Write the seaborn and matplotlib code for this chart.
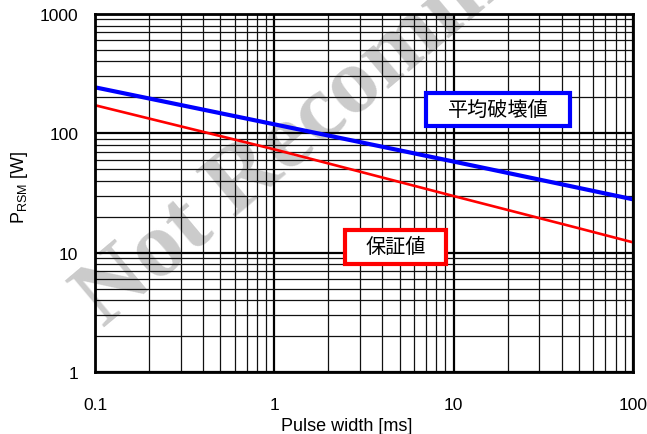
import numpy as np
import pandas as pd
import matplotlib
matplotlib.use("Agg")
import matplotlib.pyplot as plt
from matplotlib.patches import Rectangle
from matplotlib.ticker import LogLocator, FixedLocator, FixedFormatter, NullFormatter
import seaborn as sns

# Surge power rating vs. pulse width
pulse_ms = [0.1, 1, 10, 100]
p_avg_break = [243, 119, 58, 28]          # 平均破壊値
pulse_ms_guar = [0.1, 1, 10, 50, 100]
p_guaranteed = [172, 73.4, 29.8, 16.0, 12.2]  # 保証値

x_ticks = [0.1, 1, 10, 100]
x_tick_labels = ["0.1", "1", "10", "100"]
y_ticks = [1, 10, 100, 1000]
y_tick_labels = ["1", "10", "100", "1000"]

sns.set_theme(style="white")
plt.rcParams["font.family"] = ["Liberation Sans", "DejaVu Sans"]
plt.rcParams["mathtext.fontset"] = "custom"
plt.rcParams["mathtext.rm"] = "Liberation Sans"

df = pd.concat([
    pd.DataFrame({"t": pulse_ms, "P": p_avg_break, "series": "平均破壊値"}),
    pd.DataFrame({"t": pulse_ms_guar, "P": p_guaranteed, "series": "保証値"}),
])

fig = plt.figure(figsize=(6.47, 4.35), dpi=100)
fig.patch.set_facecolor("white")
ax = fig.add_axes([95 / 647, 1 - 373 / 435, 538 / 647, 358 / 435])
ax.set_facecolor("none")

# Watermark behind the chart
fig.text(0.16, 0.245, "Not Recommended", fontsize=68, fontweight="bold",
         family=["Liberation Serif", "DejaVu Serif"], color="#cbcbcb",
         rotation=40, rotation_mode="anchor", ha="left", va="baseline",
         zorder=-5)

sns.lineplot(data=df[df.series == "平均破壊値"], x="t", y="P", ax=ax,
             color="#0000ff", lw=3.0, legend=False, zorder=5)
sns.lineplot(data=df[df.series == "保証値"], x="t", y="P", ax=ax,
             color="#ff0000", lw=1.9, legend=False, zorder=5)

ax.set_xscale("log")
ax.set_yscale("log")
ax.set_xlim(0.1, 100)
ax.set_ylim(1, 1000)

ax.xaxis.set_major_locator(FixedLocator(x_ticks))
ax.xaxis.set_major_formatter(FixedFormatter(x_tick_labels))
ax.yaxis.set_major_locator(FixedLocator(y_ticks))
ax.yaxis.set_major_formatter(FixedFormatter(y_tick_labels))
ax.xaxis.set_minor_locator(LogLocator(base=10, subs=np.arange(2, 10)))
ax.yaxis.set_minor_locator(LogLocator(base=10, subs=np.arange(2, 10)))
ax.xaxis.set_minor_formatter(NullFormatter())
ax.yaxis.set_minor_formatter(NullFormatter())

ax.grid(which="major", color="black", lw=1.6, zorder=1)
ax.grid(which="minor", color="#111111", lw=0.9, zorder=1)
ax.set_axisbelow(True)

ax.tick_params(which="both", length=0, labelsize=12.5, colors="black")
ax.tick_params(axis="x", pad=18)
ax.tick_params(axis="y", pad=12)

for s in ax.spines.values():
    s.set_visible(True)
    s.set_color("black")
    s.set_linewidth(2.0)
    s.set_zorder(6)

ax.set_xlabel("Pulse width [ms]", fontsize=13, color="black")
ax.xaxis.set_label_coords(0.467, -0.125)
ax.xaxis.label.set_va("top")
ax.set_ylabel(r"P$_{\mathregular{RSM}}$ [W]", fontsize=13, color="black")
ax.yaxis.set_label_coords(-0.12, 0.52)

# Series labels in framed boxes
cjk = ["Noto Sans CJK JP", "DejaVu Sans"]
ax.add_patch(Rectangle((0.615, 0.686), 0.267, 0.094, transform=ax.transAxes,
                       facecolor="white", edgecolor="#0000ff", lw=3.0, zorder=7))
ax.text(0.749, 0.733, "平均破壊値", transform=ax.transAxes, family=cjk,
        fontsize=14.5, ha="center", va="center", color="black", zorder=8)
ax.add_patch(Rectangle((0.465, 0.302), 0.187, 0.095, transform=ax.transAxes,
                       facecolor="white", edgecolor="#ff0000", lw=3.0, zorder=7))
ax.text(0.558, 0.350, "保証値", transform=ax.transAxes, family=cjk,
        fontsize=14.5, ha="center", va="center", color="black", zorder=8)

fig.savefig("out.png", dpi=100, facecolor="white")
